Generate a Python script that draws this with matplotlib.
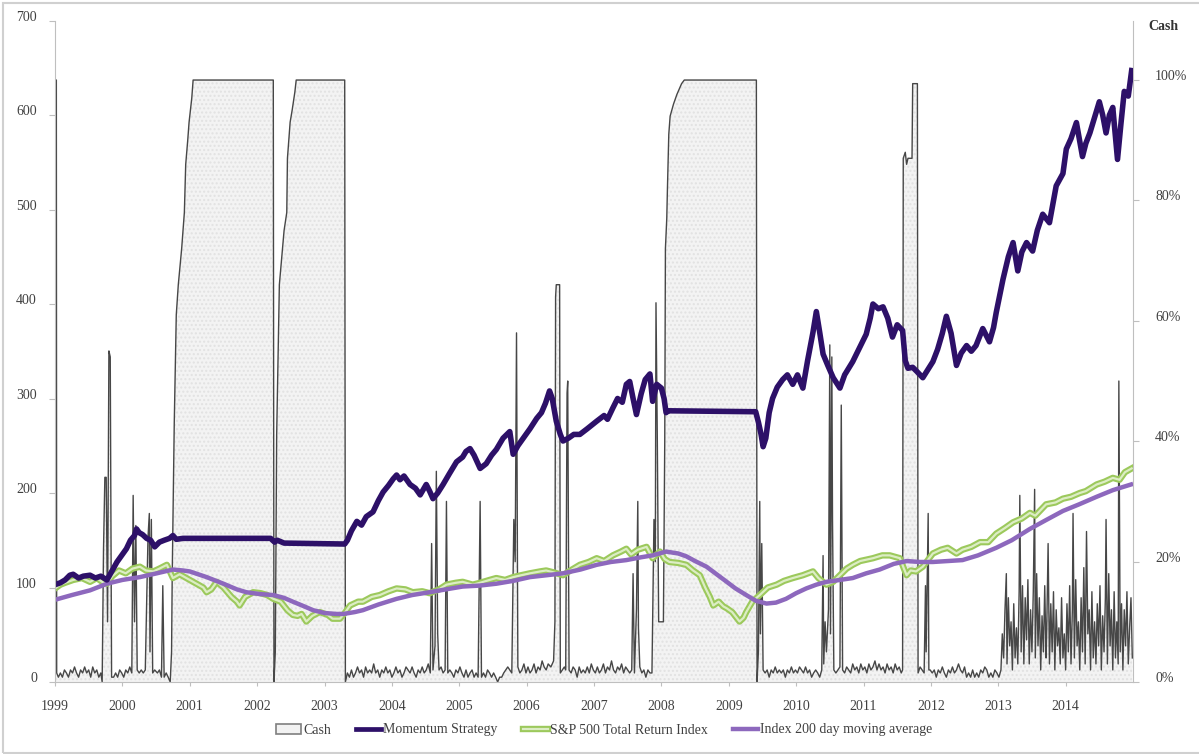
import numpy as np
import matplotlib
matplotlib.use("Agg")
import matplotlib.pyplot as plt
import matplotlib.patheffects as pe
from matplotlib.patches import Patch, Rectangle
from matplotlib.lines import Line2D

plt.rcParams["font.family"] = ["Liberation Serif", "DejaVu Serif"]

# Momentum strategy (left axis)
mom_x = [1999.00, 1999.08, 1999.15, 1999.22, 1999.27, 1999.35, 1999.42, 1999.52, 1999.60, 1999.68,
         1999.77, 1999.85, 1999.92, 2000.00, 2000.06, 2000.12, 2000.18, 2000.21, 2000.25, 2000.30,
         2000.36, 2000.42, 2000.48, 2000.55, 2000.62, 2000.70, 2000.75, 2000.80, 2000.90, 2001.50,
         2002.20, 2002.26, 2002.30, 2002.40, 2003.30, 2003.34, 2003.40, 2003.48, 2003.55, 2003.62,
         2003.72, 2003.80, 2003.87, 2003.95, 2004.02, 2004.07, 2004.12, 2004.18, 2004.27, 2004.35,
         2004.42, 2004.51, 2004.56, 2004.61, 2004.68, 2004.76, 2004.85, 2004.96, 2005.05, 2005.10,
         2005.16, 2005.22, 2005.31, 2005.40, 2005.48, 2005.55, 2005.65, 2005.75, 2005.80, 2005.87,
         2005.95, 2006.05, 2006.15, 2006.22, 2006.28, 2006.34, 2006.38, 2006.44, 2006.50, 2006.54,
         2006.62, 2006.70, 2006.79, 2006.90, 2007.04, 2007.15, 2007.20, 2007.28, 2007.35, 2007.42,
         2007.48, 2007.53, 2007.58, 2007.63, 2007.70, 2007.76, 2007.83, 2007.87, 2007.93, 2008.00,
         2008.04, 2008.07, 2008.10, 2009.40, 2009.44, 2009.48, 2009.51, 2009.55, 2009.60, 2009.65,
         2009.72, 2009.80, 2009.87, 2009.95, 2010.02, 2010.10, 2010.17, 2010.25, 2010.30, 2010.35,
         2010.40, 2010.47, 2010.55, 2010.65, 2010.72, 2010.84, 2010.95, 2011.04, 2011.10, 2011.14,
         2011.22, 2011.29, 2011.36, 2011.43, 2011.50, 2011.58, 2011.62, 2011.66, 2011.73, 2011.80,
         2011.88, 2011.95, 2012.03, 2012.10, 2012.17, 2012.23, 2012.30, 2012.38, 2012.45, 2012.53,
         2012.60, 2012.67, 2012.77, 2012.87, 2012.93, 2012.97, 2013.07, 2013.15, 2013.22, 2013.29,
         2013.35, 2013.42, 2013.51, 2013.58, 2013.66, 2013.76, 2013.86, 2013.96, 2014.01, 2014.08,
         2014.16, 2014.25, 2014.30, 2014.36, 2014.44, 2014.50, 2014.55, 2014.60, 2014.65, 2014.70,
         2014.77, 2014.82, 2014.87, 2014.93, 2014.98]
mom_y = [103, 105, 108, 113, 114, 110, 112, 113, 110, 112,
         108, 118, 127, 135, 141, 150, 155, 162, 158, 156,
         152, 150, 143, 148, 150, 152, 155, 151, 152, 152,
         152, 148, 150, 147, 146, 150, 160, 170, 166, 175,
         180, 192, 201, 208, 215, 219, 214, 218, 209, 205,
         198, 209, 202, 194, 200, 209, 220, 233, 238, 244,
         247, 240, 226, 231, 240, 246, 258, 265, 241, 250,
         258, 268, 279, 285, 295, 308, 300, 276, 262, 255,
         258, 262, 262, 268, 276, 282, 278, 290, 300, 296,
         315, 318, 300, 283, 305, 320, 326, 297, 315, 311,
         300, 285, 287, 286, 275, 262, 249, 258, 285, 300,
         312, 320, 325, 315, 325, 311, 340, 370, 392, 370,
         347, 335, 322, 311, 325, 339, 355, 368, 385, 400,
         395, 397, 385, 365, 378, 372, 340, 332, 333, 328,
         322, 330, 339, 352, 369, 387, 369, 335, 348, 356,
         350, 356, 374, 360, 375, 391, 426, 450, 465, 435,
         455, 465, 456, 478, 495, 486, 525, 538, 564, 575,
         592, 556, 570, 581, 600, 614, 600, 581, 600, 608,
         553, 590, 625, 620, 647]

# S&P 500 Total Return Index (left axis)
sp_x = [1999.00, 1999.08, 1999.15, 1999.27, 1999.40, 1999.52, 1999.62, 1999.72, 1999.77, 1999.85,
        1999.95, 2000.05, 2000.15, 2000.26, 2000.35, 2000.46, 2000.55, 2000.66, 2000.75, 2000.85,
        2001.00, 2001.10, 2001.20, 2001.25, 2001.32, 2001.40, 2001.50, 2001.62, 2001.70, 2001.74,
        2001.82, 2001.94, 2002.05, 2002.15, 2002.24, 2002.35, 2002.45, 2002.53, 2002.60, 2002.66,
        2002.73, 2002.82, 2002.93, 2003.05, 2003.12, 2003.23, 2003.30, 2003.38, 2003.50, 2003.57,
        2003.70, 2003.82, 2003.95, 2004.07, 2004.20, 2004.31, 2004.45, 2004.56, 2004.70, 2004.81,
        2004.95, 2005.05, 2005.20, 2005.31, 2005.45, 2005.55, 2005.68, 2005.80, 2005.92, 2006.05,
        2006.20, 2006.29, 2006.40, 2006.54, 2006.65, 2006.79, 2006.92, 2007.04, 2007.15, 2007.28,
        2007.40, 2007.48, 2007.55, 2007.65, 2007.78, 2007.87, 2007.98, 2008.05, 2008.12, 2008.25,
        2008.37, 2008.47, 2008.57, 2008.65, 2008.72, 2008.77, 2008.85, 2008.92, 2008.97, 2009.05,
        2009.16, 2009.22, 2009.26, 2009.35, 2009.46, 2009.58, 2009.71, 2009.82, 2009.95, 2010.10,
        2010.25, 2010.33, 2010.45, 2010.55, 2010.65, 2010.75, 2010.84, 2010.95, 2011.14, 2011.28,
        2011.39, 2011.54, 2011.60, 2011.64, 2011.70, 2011.78, 2011.88, 2012.03, 2012.15, 2012.25,
        2012.38, 2012.47, 2012.60, 2012.73, 2012.85, 2012.97, 2013.10, 2013.22, 2013.35, 2013.47,
        2013.55, 2013.71, 2013.85, 2013.96, 2014.08, 2014.21, 2014.30, 2014.46, 2014.58, 2014.70,
        2014.80, 2014.88, 2014.98]
sp_y = [99, 103, 105, 108, 110, 106, 110, 105, 104, 112,
        118, 115, 120, 122, 118, 117, 120, 124, 110, 114,
        108, 104, 100, 95, 98, 106, 100, 90, 85, 81,
        90, 95, 94, 92, 88, 85, 76, 71, 70, 72,
        64, 70, 74, 71, 67, 67, 73, 81, 85, 85,
        90, 92, 96, 99, 98, 95, 96, 94, 98, 103,
        105, 106, 103, 105, 108, 110, 108, 111, 113, 115,
        117, 118, 116, 113, 118, 124, 127, 131, 128, 134,
        138, 141, 135, 140, 143, 131, 138, 130, 127, 126,
        124, 118, 113, 100, 90, 81, 85, 80, 78, 74,
        64, 68, 74, 85, 92, 100, 103, 107, 110, 113,
        117, 110, 103, 106, 113, 120, 124, 128, 131, 134,
        134, 131, 120, 113, 118, 117, 122, 136, 140, 142,
        136, 140, 143, 148, 148, 157, 163, 169, 173, 179,
        176, 188, 190, 194, 196, 200, 202, 209, 212, 216,
        214, 222, 226]

# Index 200 day moving average (left axis)
ma_x = [1999.00, 1999.25, 1999.52, 1999.77, 2000.00, 2000.26, 2000.51, 2000.75, 2000.90, 2001.00,
        2001.25, 2001.50, 2001.70, 2001.84, 2002.05, 2002.24, 2002.40, 2002.53, 2002.70, 2002.83,
        2003.00, 2003.18, 2003.28, 2003.45, 2003.57, 2003.80, 2004.07, 2004.30, 2004.56, 2004.80,
        2005.05, 2005.30, 2005.55, 2005.80, 2006.05, 2006.30, 2006.54, 2006.80, 2007.04, 2007.25,
        2007.48, 2007.70, 2007.87, 2008.07, 2008.25, 2008.37, 2008.50, 2008.67, 2008.82, 2008.97,
        2009.10, 2009.26, 2009.40, 2009.56, 2009.70, 2009.85, 2010.00, 2010.15, 2010.30, 2010.45,
        2010.65, 2010.84, 2011.04, 2011.24, 2011.45, 2011.64, 2011.84, 2012.03, 2012.25, 2012.47,
        2012.70, 2012.97, 2013.20, 2013.47, 2013.70, 2013.96, 2014.20, 2014.46, 2014.70, 2014.97]
ma_y = [87, 92, 97, 104, 108, 111, 115, 119, 118, 117,
        111, 104, 98, 95, 93, 92, 89, 85, 80, 76,
        73, 72, 72, 74, 76, 82, 88, 92, 95, 98,
        101, 102, 104, 107, 111, 113, 115, 119, 124, 127,
        129, 132, 134, 138, 136, 133, 128, 122, 114, 106,
        99, 92, 86, 83, 84, 88, 94, 99, 103, 106,
        108, 110, 115, 119, 125, 128, 127, 127, 128, 129,
        134, 142, 150, 162, 171, 181, 188, 196, 203, 209]

# Cash share in percent (right axis)
cash_x = [1999.00, 1999.02, 1999.025, 1999.05, 1999.08, 1999.11, 1999.14, 1999.17, 1999.20, 1999.23,
          1999.26, 1999.29, 1999.32, 1999.35, 1999.38, 1999.41, 1999.44, 1999.47, 1999.50, 1999.53,
          1999.56, 1999.59, 1999.62, 1999.65, 1999.68, 1999.70, 1999.72, 1999.74, 1999.76, 1999.78,
          1999.80, 1999.82, 1999.84, 1999.87, 1999.90, 1999.93, 1999.96, 1999.99, 2000.02, 2000.05,
          2000.08, 2000.11, 2000.14, 2000.16, 2000.18, 2000.20, 2000.22, 2000.25, 2000.28, 2000.31,
          2000.34, 2000.38, 2000.40, 2000.41, 2000.43, 2000.45, 2000.48, 2000.52, 2000.55, 2000.58,
          2000.60, 2000.62, 2000.65, 2000.68, 2000.71, 2000.73, 2000.74, 2000.77, 2000.80, 2000.83,
          2000.88, 2000.92, 2000.94, 2000.97, 2000.99, 2001.01, 2001.03, 2001.05, 2002.24, 2002.25,
          2002.27, 2002.29, 2002.33, 2002.40, 2002.44, 2002.45, 2002.47, 2002.49, 2002.52, 2002.56,
          2002.58, 2003.30, 2003.31, 2003.34, 2003.37, 2003.40, 2003.43, 2003.46, 2003.49, 2003.52,
          2003.55, 2003.58, 2003.61, 2003.64, 2003.67, 2003.70, 2003.73, 2003.76, 2003.79, 2003.82,
          2003.85, 2003.88, 2003.91, 2003.94, 2003.97, 2004.00, 2004.03, 2004.06, 2004.09, 2004.12,
          2004.15, 2004.18, 2004.21, 2004.24, 2004.27, 2004.30, 2004.33, 2004.36, 2004.39, 2004.42,
          2004.45, 2004.48, 2004.51, 2004.54, 2004.57, 2004.59, 2004.61, 2004.64, 2004.66, 2004.68,
          2004.70, 2004.73, 2004.76, 2004.79, 2004.81, 2004.83, 2004.86, 2004.89, 2004.92, 2004.95,
          2004.98, 2005.01, 2005.04, 2005.07, 2005.10, 2005.13, 2005.16, 2005.19, 2005.22, 2005.25,
          2005.28, 2005.31, 2005.33, 2005.36, 2005.39, 2005.42, 2005.45, 2005.48, 2005.51, 2005.54,
          2005.57, 2005.60, 2005.63, 2005.66, 2005.69, 2005.72, 2005.75, 2005.78, 2005.81, 2005.83,
          2005.85, 2005.87, 2005.90, 2005.93, 2005.96, 2005.99, 2006.02, 2006.05, 2006.08, 2006.11,
          2006.14, 2006.17, 2006.20, 2006.23, 2006.26, 2006.29, 2006.32, 2006.36, 2006.40, 2006.42,
          2006.43, 2006.44, 2006.49, 2006.50, 2006.53, 2006.56, 2006.58, 2006.60, 2006.61, 2006.63,
          2006.66, 2006.69, 2006.72, 2006.75, 2006.78, 2006.81, 2006.84, 2006.87, 2006.90, 2006.93,
          2006.96, 2006.99, 2007.02, 2007.05, 2007.08, 2007.11, 2007.14, 2007.17, 2007.20, 2007.23,
          2007.26, 2007.29, 2007.32, 2007.35, 2007.38, 2007.41, 2007.44, 2007.47, 2007.50, 2007.53,
          2007.56, 2007.58, 2007.60, 2007.63, 2007.65, 2007.66, 2007.68, 2007.71, 2007.74, 2007.77,
          2007.80, 2007.83, 2007.86, 2007.89, 2007.91, 2007.92, 2007.94, 2007.96, 2007.98, 2008.03,
          2008.05, 2008.06, 2008.08, 2008.09, 2008.11, 2008.13, 2008.18, 2008.23, 2008.30, 2008.34,
          2009.41, 2009.42, 2009.44, 2009.46, 2009.47, 2009.49, 2009.51, 2009.54, 2009.57, 2009.60,
          2009.63, 2009.66, 2009.69, 2009.72, 2009.75, 2009.78, 2009.81, 2009.84, 2009.87, 2009.90,
          2009.93, 2009.96, 2009.99, 2010.02, 2010.05, 2010.08, 2010.11, 2010.14, 2010.17, 2010.20,
          2010.23, 2010.26, 2010.29, 2010.32, 2010.35, 2010.38, 2010.40, 2010.41, 2010.43, 2010.45,
          2010.48, 2010.50, 2010.51, 2010.53, 2010.54, 2010.56, 2010.59, 2010.62, 2010.65, 2010.67,
          2010.69, 2010.72, 2010.75, 2010.78, 2010.81, 2010.84, 2010.87, 2010.90, 2010.93, 2010.96,
          2010.99, 2011.02, 2011.05, 2011.08, 2011.11, 2011.14, 2011.17, 2011.20, 2011.23, 2011.26,
          2011.29, 2011.32, 2011.35, 2011.38, 2011.41, 2011.44, 2011.47, 2011.50, 2011.53, 2011.56,
          2011.58, 2011.59, 2011.62, 2011.64, 2011.66, 2011.72, 2011.73, 2011.80, 2011.81, 2011.84,
          2011.87, 2011.90, 2011.92, 2011.93, 2011.96, 2011.97, 2011.99, 2012.02, 2012.05, 2012.08,
          2012.11, 2012.14, 2012.17, 2012.20, 2012.23, 2012.26, 2012.29, 2012.32, 2012.35, 2012.38,
          2012.41, 2012.44, 2012.47, 2012.50, 2012.53, 2012.56, 2012.59, 2012.62, 2012.65, 2012.68,
          2012.71, 2012.74, 2012.77, 2012.80, 2012.83, 2012.86, 2012.89, 2012.92, 2012.95, 2012.98,
          2013.01, 2013.04, 2013.06, 2013.08, 2013.10, 2013.12, 2013.13, 2013.15, 2013.17, 2013.19,
          2013.21, 2013.23, 2013.25, 2013.27, 2013.29, 2013.31, 2013.32, 2013.34, 2013.36, 2013.38,
          2013.40, 2013.42, 2013.44, 2013.46, 2013.48, 2013.50, 2013.52, 2013.54, 2013.55, 2013.57,
          2013.59, 2013.61, 2013.63, 2013.65, 2013.67, 2013.69, 2013.71, 2013.72, 2013.74, 2013.76,
          2013.78, 2013.80, 2013.82, 2013.84, 2013.86, 2013.88, 2013.90, 2013.92, 2013.94, 2013.96,
          2013.98, 2014.00, 2014.02, 2014.04, 2014.06, 2014.08, 2014.10, 2014.11, 2014.13, 2014.15,
          2014.17, 2014.19, 2014.21, 2014.23, 2014.25, 2014.27, 2014.29, 2014.31, 2014.33, 2014.35,
          2014.37, 2014.39, 2014.41, 2014.43, 2014.45, 2014.47, 2014.49, 2014.51, 2014.53, 2014.55,
          2014.57, 2014.59, 2014.60, 2014.62, 2014.64, 2014.66, 2014.68, 2014.70, 2014.72, 2014.74,
          2014.76, 2014.78, 2014.79, 2014.81, 2014.83, 2014.85, 2014.87, 2014.89, 2014.91, 2014.93,
          2014.95, 2014.97, 2014.99]
cash_pct = [100, 100, 1.5, 0.8, 1.5, 0.8, 2, 1.5, 0.8, 2,
            1.5, 2.5, 1.5, 0.8, 2, 1.5, 2.5, 1.5, 2, 0.8,
            2.5, 1.5, 2, 0.8, 1.5, 0, 22, 34, 34, 10,
            55, 54, 0.8, 0.8, 1.5, 0.8, 2, 1.5, 0.8, 2,
            1.5, 2.5, 1.5, 31, 10, 26, 2, 1.5, 2, 1.5,
            2, 24, 28, 5, 27, 1.5, 2, 1.5, 2, 0.8,
            16, 0.8, 1.5, 0.8, 0, 5, 18, 43, 61, 66,
            72, 78, 86, 90, 93, 95, 97, 100, 100, 0,
            5, 41, 66, 75, 78, 87, 90, 93, 95, 98,
            100, 100, 0, 1.5, 0.8, 2, 0.8, 1.5, 2.5, 1.5,
            2, 0.8, 2.5, 1.5, 2, 1.5, 3, 1.5, 2, 0.8,
            2, 1.5, 2.5, 1.5, 2, 0.8, 1.5, 2.5, 1.5, 2,
            0.8, 1.5, 2.5, 2, 1.5, 2.5, 1.5, 0.8, 2, 1.5,
            2.5, 1.5, 2, 3, 1.5, 23, 2, 6, 35, 8,
            2, 2.5, 1.5, 2, 30, 1.5, 2, 1.5, 0.8, 2,
            1.5, 2.5, 1.5, 0.8, 2, 0.8, 1.5, 2, 0.8, 1.5,
            0.8, 30, 0.8, 1.5, 0.8, 2, 1.5, 0.8, 1.5, 0.8,
            0, 0.8, 0.8, 1.5, 2, 2.5, 2, 1.5, 27, 20,
            58, 2.5, 1.5, 2, 3, 1.5, 2.5, 1.5, 2, 3,
            1.5, 2.5, 2, 3.5, 2.5, 2, 3, 2.5, 3.5, 10,
            64, 66, 66, 1.5, 2, 2.5, 2, 48, 50, 2,
            1.5, 2.5, 2, 0.8, 2.5, 1.5, 2, 1.5, 2.5, 1.5,
            3, 2, 1.5, 2.5, 1.5, 2, 3, 1.5, 2.5, 2,
            3.5, 2, 1.5, 2.5, 2, 3, 1.5, 2.5, 2, 1.5,
            2, 18, 1.5, 12, 30, 9, 2.5, 1.5, 2, 0.8,
            2, 1.5, 1.5, 27, 20, 63, 40, 10, 10, 10,
            40, 72, 77, 82, 91, 94, 96, 97.6, 99.4, 100,
            100, 0, 5, 30, 8, 23, 2, 1.5, 2, 0.8,
            2, 1.5, 2.5, 1.5, 2, 1.5, 2, 0.8, 2, 1.5,
            2.5, 1.5, 2, 1.5, 2.5, 2, 1.5, 2.5, 1.5, 2,
            0.8, 1.5, 2, 1.5, 0.8, 2, 21, 3, 10, 5,
            12, 56, 8, 54, 27, 2, 1.5, 2, 2.5, 46,
            2, 1.5, 2.5, 2, 1.5, 3, 2, 2.5, 1.5, 3,
            2, 2.5, 1.5, 3, 2, 2.5, 3.5, 2, 3, 2,
            2.5, 1.5, 3, 2, 2.5, 1.5, 3, 2, 2.5, 1.5,
            2, 87, 88, 86, 87, 87, 99.4, 99.4, 1.5, 2.5,
            2, 1.5, 16, 5, 28, 2, 2, 1.5, 2, 0.8,
            2, 1.5, 2.5, 1.5, 0.8, 2, 1.5, 2.5, 1.5, 2,
            3, 2, 1.5, 2.5, 0.8, 1.5, 0.8, 2, 0.8, 1.5,
            0.8, 2, 1.5, 2.5, 2, 0.8, 1.5, 0.8, 2, 1.5,
            0.8, 2, 8, 4, 12, 18, 3, 14, 6, 10,
            2, 13, 4, 9, 3, 15, 31, 5, 16, 3,
            14, 7, 17, 3, 12, 5, 15, 32, 4, 18,
            6, 14, 2, 11, 5, 16, 4, 9, 23, 3,
            13, 5, 15, 2, 12, 6, 9, 3, 14, 4,
            8, 2, 13, 5, 16, 3, 12, 28, 4, 17,
            6, 10, 2, 14, 5, 19, 3, 25, 8, 12,
            2, 15, 4, 10, 3, 13, 6, 16, 2, 11,
            5, 14, 27, 3, 18, 6, 12, 2, 15, 4,
            10, 3, 50, 5, 13, 2, 12, 6, 15, 3,
            9, 14, 4]

years = list(range(1999, 2015))
left_ticks = [0, 100, 200, 300, 400, 500, 600, 700]
right_ticks = [0, 20, 40, 60, 80, 100]

MOM_COLOR = "#2d1068"
SP_EDGE = "#9cc95c"
SP_FILL = "#dcedc4"
MA_COLOR = "#8d68bd"
GRID_GREY = "#bfbfbf"
TEXT_COLOR = "#404040"

fig = plt.figure(figsize=(11.99, 7.54), dpi=100)
ax = fig.add_axes([55 / 1199, 1 - 682 / 754, (1133 - 55) / 1199, (682 - 20.5) / 754])
ax2 = ax.twinx()
ax.set_zorder(2)
ax2.set_zorder(1)
ax.patch.set_visible(False)

# cash area on the right axis, behind the lines
ax2.fill_between(cash_x, 0, cash_pct, facecolor="#f3f3f3", hatch="....",
                 edgecolor="#e2e2e2", linewidth=0)
ax2.plot(cash_x, cash_pct, color="#474747", lw=1.0)
ax2.set_ylim(0, 700 / 637 * 100)
ax2.set_yticks(right_ticks, ["{}%".format(t) for t in right_ticks], va="baseline")

sp_effects = [pe.Stroke(linewidth=4.6, foreground=SP_EDGE), pe.Normal()]
ax.plot(sp_x, sp_y, color=SP_FILL, lw=1.6, solid_joinstyle="round", path_effects=sp_effects)
ax.plot(ma_x, ma_y, color=MA_COLOR, lw=3.2, solid_joinstyle="round")
ax.plot(mom_x, mom_y, color=MOM_COLOR, lw=4.0, solid_joinstyle="round")

ax.set_xlim(1999, 2015)
ax.set_ylim(0, 700)
ax.set_xticks(years, [str(y) for y in years])
ax.set_yticks(left_ticks, [str(t) for t in left_ticks], va="baseline")

for a in (ax, ax2):
    for s in a.spines.values():
        s.set_visible(False)
    a.tick_params(colors=GRID_GREY, labelcolor=TEXT_COLOR, labelsize=10,
                  direction="out", length=4, width=0.8)
ax.spines["left"].set_visible(True)
ax.spines["bottom"].set_visible(True)
ax.spines["left"].set_color(GRID_GREY)
ax.spines["bottom"].set_color(GRID_GREY)
ax2.spines["right"].set_visible(True)
ax2.spines["right"].set_color(GRID_GREY)
ax.tick_params(axis="y", pad=9)
ax.tick_params(axis="x", pad=10, length=3)
ax2.tick_params(axis="y", pad=12)

fig.text(1148 / 1199, 1 - 27 / 754, "Cash", ha="left", va="center",
         fontsize=10, fontweight="bold", color="#333333")

handles = [
    Patch(facecolor="#f2f2f2", edgecolor="#7f7f7f", lw=1.2),
    Line2D([], [], color=MOM_COLOR, lw=3.4),
    Line2D([], [], color=SP_FILL, lw=1.6, path_effects=sp_effects),
    Line2D([], [], color=MA_COLOR, lw=3.2),
]
labels = ["Cash", "Momentum Strategy", "S&P 500 Total Return Index",
          "Index 200 day moving average"]
fig.legend(handles, labels, loc="center", bbox_to_anchor=(604 / 1199, 1 - 730 / 754),
           ncol=4, frameon=False, fontsize=10, handlelength=1.8, handletextpad=0.15,
           columnspacing=1.8, labelcolor=TEXT_COLOR)

# light frame around the whole picture
fig.patches.append(Rectangle((3 / 1199, 1 / 754), 1.01, 750 / 754, transform=fig.transFigure,
                             fill=False, edgecolor="#d0d0d0", lw=1.5))

fig.savefig("out.png", dpi=100)
